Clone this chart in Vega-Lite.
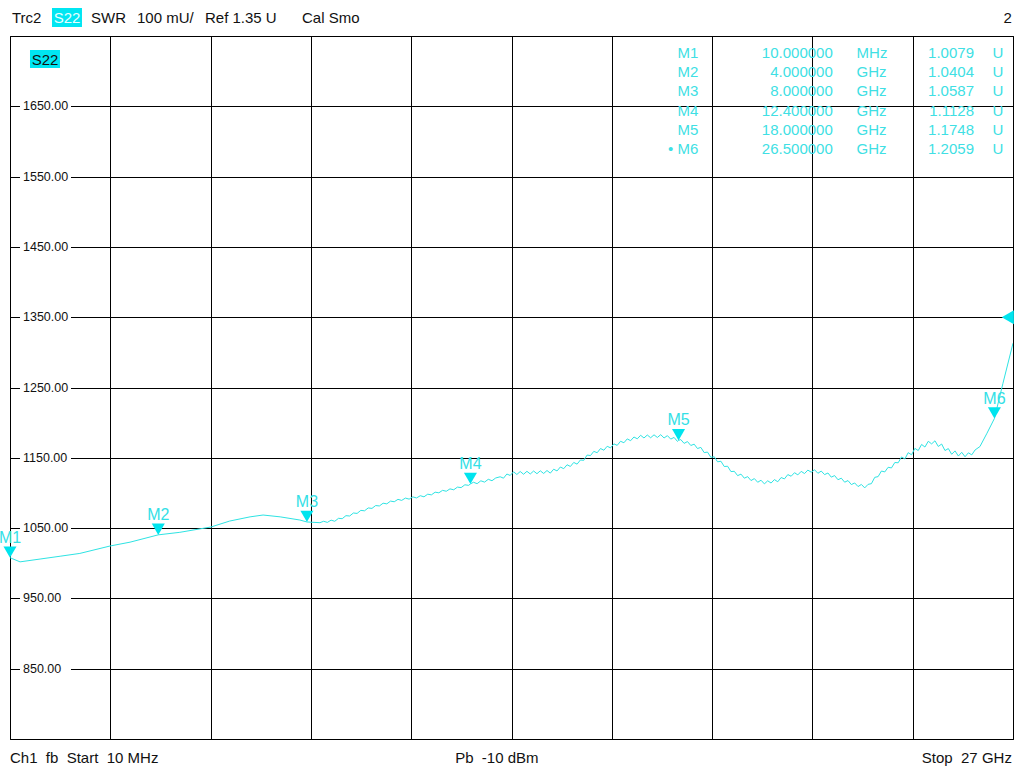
{
  "$schema": "https://vega.github.io/schema/vega-lite/v6.json",
  "width": 1003,
  "height": 703,
  "autosize": {"type": "none"},
  "padding": {"left": 10, "top": 36, "right": 11, "bottom": 28},
  "background": "white",
  "config": {
    "view": {"stroke": "black", "strokeWidth": 1},
    "font": "Liberation Sans",
    "text": {"font": "Liberation Sans"}
  },
  "datasets": {
    "one": [{}],
    "trace": [
      {"f": 0.01, "v": 1007.9}, {"f": 0.28, "v": 1002}, {"f": 0.82, "v": 1006}, {"f": 1.36, "v": 1010},
      {"f": 1.89, "v": 1014}, {"f": 2.70, "v": 1024.5}, {"f": 3.24, "v": 1030}, {"f": 4.0, "v": 1040.4},
      {"f": 4.58, "v": 1044}, {"f": 5.42, "v": 1051.6}, {"f": 5.92, "v": 1060}, {"f": 6.47, "v": 1066},
      {"f": 6.82, "v": 1068.6}, {"f": 7.28, "v": 1066}, {"f": 7.81, "v": 1061.5}, {"f": 8.0, "v": 1058.7},
      {"f": 8.35, "v": 1057.7},
      {"f": 8.45, "v": 1059.7}, {"f": 8.55, "v": 1058.1}, {"f": 8.65, "v": 1061.3}, {"f": 8.75, "v": 1059.7},
      {"f": 8.85, "v": 1063.9}, {"f": 8.95, "v": 1063.4}, {"f": 9.05, "v": 1067.7}, {"f": 9.15, "v": 1067.2},
      {"f": 9.25, "v": 1071.5}, {"f": 9.35, "v": 1070.9}, {"f": 9.45, "v": 1075.2}, {"f": 9.55, "v": 1074.6},
      {"f": 9.65, "v": 1078.7}, {"f": 9.75, "v": 1078.0}, {"f": 9.85, "v": 1082.1}, {"f": 9.95, "v": 1081.5},
      {"f": 10.05, "v": 1085.4}, {"f": 10.15, "v": 1084.5}, {"f": 10.25, "v": 1088.4}, {"f": 10.35, "v": 1087.5},
      {"f": 10.45, "v": 1090.9}, {"f": 10.55, "v": 1089.4}, {"f": 10.65, "v": 1092.7}, {"f": 10.75, "v": 1091.2},
      {"f": 10.85, "v": 1094.4}, {"f": 10.95, "v": 1092.9}, {"f": 11.05, "v": 1096.1}, {"f": 11.15, "v": 1094.5},
      {"f": 11.25, "v": 1098.2}, {"f": 11.35, "v": 1097.3}, {"f": 11.45, "v": 1101.1}, {"f": 11.55, "v": 1100.2},
      {"f": 11.65, "v": 1103.7}, {"f": 11.75, "v": 1102.4}, {"f": 11.85, "v": 1105.8}, {"f": 11.95, "v": 1104.5},
      {"f": 12.05, "v": 1108.3}, {"f": 12.15, "v": 1107.6}, {"f": 12.25, "v": 1111.6}, {"f": 12.35, "v": 1110.8},
      {"f": 12.40, "v": 1112.8},
      {"f": 12.48, "v": 1115.2}, {"f": 12.58, "v": 1113.2}, {"f": 12.68, "v": 1117.3}, {"f": 12.78, "v": 1115.4},
      {"f": 12.88, "v": 1119.4}, {"f": 12.98, "v": 1117.4}, {"f": 13.08, "v": 1121.3},
      {"f": 13.20, "v": 1123.0}, {"f": 13.29, "v": 1121.0}, {"f": 13.38, "v": 1126.9}, {"f": 13.47, "v": 1124.9},
      {"f": 13.56, "v": 1130.1}, {"f": 13.65, "v": 1126.3}, {"f": 13.74, "v": 1130.5}, {"f": 13.83, "v": 1126.6},
      {"f": 13.92, "v": 1130.8}, {"f": 14.01, "v": 1127.0}, {"f": 14.10, "v": 1131.2}, {"f": 14.19, "v": 1127.4},
      {"f": 14.28, "v": 1131.5}, {"f": 14.37, "v": 1127.7}, {"f": 14.46, "v": 1131.9}, {"f": 14.55, "v": 1128.2},
      {"f": 14.64, "v": 1133.8}, {"f": 14.73, "v": 1131.3}, {"f": 14.82, "v": 1136.9}, {"f": 14.91, "v": 1134.5},
      {"f": 15.00, "v": 1140.1}, {"f": 15.09, "v": 1137.7}, {"f": 15.18, "v": 1143.4}, {"f": 15.27, "v": 1141.0},
      {"f": 15.36, "v": 1146.9}, {"f": 15.45, "v": 1146.4}, {"f": 15.54, "v": 1153.9}, {"f": 15.63, "v": 1153.2},
      {"f": 15.72, "v": 1159.2}, {"f": 15.81, "v": 1157.2}, {"f": 15.90, "v": 1163.2}, {"f": 15.99, "v": 1160.8},
      {"f": 16.08, "v": 1166.4}, {"f": 16.17, "v": 1164.1}, {"f": 16.26, "v": 1169.8}, {"f": 16.35, "v": 1167.7},
      {"f": 16.44, "v": 1173.5}, {"f": 16.53, "v": 1171.4}, {"f": 16.62, "v": 1176.9}, {"f": 16.71, "v": 1174.3},
      {"f": 16.80, "v": 1179.6}, {"f": 16.89, "v": 1177.0}, {"f": 16.98, "v": 1182.0}, {"f": 17.07, "v": 1178.2},
      {"f": 17.16, "v": 1182.4}, {"f": 17.25, "v": 1178.5}, {"f": 17.34, "v": 1182.7}, {"f": 17.43, "v": 1178.9},
      {"f": 17.52, "v": 1182.9}, {"f": 17.61, "v": 1178.2}, {"f": 17.70, "v": 1181.5}, {"f": 17.79, "v": 1176.6},
      {"f": 17.88, "v": 1179.0}, {"f": 17.97, "v": 1173.3}, {"f": 18.0, "v": 1174.8}, {"f": 18.06, "v": 1175.9},
      {"f": 18.15, "v": 1170.5}, {"f": 18.24, "v": 1173.1}, {"f": 18.33, "v": 1167.5}, {"f": 18.42, "v": 1169.4},
      {"f": 18.51, "v": 1163.2}, {"f": 18.60, "v": 1164.8}, {"f": 18.69, "v": 1157.4}, {"f": 18.78, "v": 1158.1},
      {"f": 18.87, "v": 1150.7}, {"f": 18.96, "v": 1151.5}, {"f": 19.05, "v": 1144.3}, {"f": 19.14, "v": 1145.1},
      {"f": 19.23, "v": 1137.6}, {"f": 19.32, "v": 1138.0}, {"f": 19.41, "v": 1130.4}, {"f": 19.50, "v": 1130.8},
      {"f": 19.59, "v": 1124.6}, {"f": 19.68, "v": 1126.8}, {"f": 19.77, "v": 1121.0}, {"f": 19.86, "v": 1123.2},
      {"f": 19.95, "v": 1117.6}, {"f": 20.04, "v": 1120.4}, {"f": 20.13, "v": 1115.2}, {"f": 20.22, "v": 1118.1},
      {"f": 20.31, "v": 1112.9}, {"f": 20.40, "v": 1117.3}, {"f": 20.49, "v": 1114.1}, {"f": 20.58, "v": 1119.0},
      {"f": 20.67, "v": 1115.9}, {"f": 20.76, "v": 1121.9}, {"f": 20.85, "v": 1120.0}, {"f": 20.94, "v": 1126.1},
      {"f": 21.03, "v": 1123.8}, {"f": 21.12, "v": 1128.8}, {"f": 21.21, "v": 1125.7}, {"f": 21.30, "v": 1130.7},
      {"f": 21.39, "v": 1127.6}, {"f": 21.48, "v": 1132.5}, {"f": 21.57, "v": 1129.5}, {"f": 21.66, "v": 1133.0},
      {"f": 21.75, "v": 1128.0}, {"f": 21.84, "v": 1131.1}, {"f": 21.93, "v": 1126.1}, {"f": 22.02, "v": 1128.4},
      {"f": 22.11, "v": 1122.5}, {"f": 22.20, "v": 1124.7}, {"f": 22.29, "v": 1118.8}, {"f": 22.38, "v": 1121.0},
      {"f": 22.47, "v": 1115.3}, {"f": 22.56, "v": 1117.6}, {"f": 22.65, "v": 1111.9}, {"f": 22.74, "v": 1114.2},
      {"f": 22.83, "v": 1109.1}, {"f": 22.92, "v": 1112.1}, {"f": 23.01, "v": 1107.2}, {"f": 23.10, "v": 1112.2},
      {"f": 23.19, "v": 1113.2}, {"f": 23.28, "v": 1122.2}, {"f": 23.37, "v": 1123.2}, {"f": 23.46, "v": 1131.2},
      {"f": 23.55, "v": 1129.9}, {"f": 23.64, "v": 1136.5}, {"f": 23.73, "v": 1135.6}, {"f": 23.82, "v": 1143.3},
      {"f": 23.91, "v": 1142.9}, {"f": 24.00, "v": 1151.2}, {"f": 24.09, "v": 1148.3}, {"f": 24.18, "v": 1157.3},
      {"f": 24.27, "v": 1154.3}, {"f": 24.36, "v": 1163.4}, {"f": 24.45, "v": 1160.3}, {"f": 24.54, "v": 1169.0},
      {"f": 24.63, "v": 1165.3}, {"f": 24.72, "v": 1173.5}, {"f": 24.81, "v": 1169.8}, {"f": 24.90, "v": 1174.2},
      {"f": 24.99, "v": 1166.1}, {"f": 25.08, "v": 1169.6}, {"f": 25.17, "v": 1160.3}, {"f": 25.26, "v": 1163.1},
      {"f": 25.35, "v": 1155.0}, {"f": 25.44, "v": 1159.8}, {"f": 25.53, "v": 1152.5}, {"f": 25.62, "v": 1157.8},
      {"f": 25.71, "v": 1151.5}, {"f": 25.80, "v": 1157.1}, {"f": 25.89, "v": 1154.2}, {"f": 25.98, "v": 1161.2},
      {"f": 26.11, "v": 1166}, {"f": 26.30, "v": 1185},
      {"f": 26.50, "v": 1205.9}, {"f": 26.73, "v": 1256}, {"f": 27.0, "v": 1313}
    ],
    "markers": [
      {"m": "M1", "lab": "M1", "f": 0.01, "v": 1007.9, "flab": "10.000000", "unit": "MHz", "vlab": "1.0079", "u": "U"},
      {"m": "M2", "lab": "M2", "f": 4.0, "v": 1040.4, "flab": "4.000000", "unit": "GHz", "vlab": "1.0404", "u": "U"},
      {"m": "M3", "lab": "M3", "f": 8.0, "v": 1058.7, "flab": "8.000000", "unit": "GHz", "vlab": "1.0587", "u": "U"},
      {"m": "M4", "lab": "M4", "f": 12.4, "v": 1112.8, "flab": "12.400000", "unit": "GHz", "vlab": "1.1128", "u": "U"},
      {"m": "M5", "lab": "M5", "f": 18.0, "v": 1174.8, "flab": "18.000000", "unit": "GHz", "vlab": "1.1748", "u": "U"},
      {"m": "M6", "lab": "• M6", "f": 26.5, "v": 1205.9, "flab": "26.500000", "unit": "GHz", "vlab": "1.2059", "u": "U"}
    ],
    "ticks": [
      {"v": 850}, {"v": 950}, {"v": 1050}, {"v": 1150}, {"v": 1250}, {"v": 1350}, {"v": 1450}, {"v": 1550}, {"v": 1650}
    ]
  },
  "resolve": {"scale": {"y": "independent"}, "axis": {"y": "independent"}},
  "layer": [
    {
      "layer": [
        {
          "data": {"name": "ticks"},
          "mark": {"type": "rect", "fill": "white", "width": 51, "height": 14},
          "encoding": {
            "x": {"datum": 0.965, "type": "quantitative", "scale": {"domain": [0.01, 27], "nice": false, "zero": false},
                  "axis": {"values": [0.01, 2.709, 5.408, 8.107, 10.806, 13.505, 16.204, 18.903, 21.602, 24.301, 27.0],
                           "grid": true, "gridColor": "black", "gridOpacity": 1, "gridWidth": 1,
                           "labels": false, "ticks": false, "domain": false, "title": null}},
            "y": {"field": "v", "type": "quantitative", "scale": {"domain": [750, 1750], "nice": false, "zero": false},
                  "axis": {"values": [750, 850, 950, 1050, 1150, 1250, 1350, 1450, 1550, 1650, 1750],
                           "grid": true, "gridColor": "black", "gridOpacity": 1, "gridWidth": 1,
                           "labels": false, "ticks": false, "domain": false, "title": null}}
          }
        },
        {
          "data": {"name": "ticks"},
          "mark": {"type": "text", "align": "left", "baseline": "middle", "fontSize": 12.5, "color": "#111111"},
          "encoding": {
            "x": {"datum": 0.36, "type": "quantitative"},
            "y": {"field": "v", "type": "quantitative"},
            "text": {"field": "v", "type": "quantitative", "format": ".2f"}
          }
        },
        {
          "data": {"name": "trace"},
          "mark": {"type": "line", "color": "#2ee3e3", "strokeWidth": 1, "clip": true},
          "encoding": {
            "x": {"field": "f", "type": "quantitative"},
            "y": {"field": "v", "type": "quantitative"}
          }
        },
        {
          "data": {"name": "markers"},
          "mark": {"type": "point", "shape": "triangle-down", "filled": true, "size": 170, "yOffset": -5.6, "color": "#00e4ee", "opacity": 1},
          "encoding": {
            "x": {"field": "f", "type": "quantitative"},
            "y": {"field": "v", "type": "quantitative"}
          }
        },
        {
          "data": {"name": "markers"},
          "mark": {"type": "text", "align": "center", "baseline": "alphabetic", "dy": -15, "fontSize": 16, "color": "#33e0e6"},
          "encoding": {
            "x": {"field": "f", "type": "quantitative"},
            "y": {"field": "v", "type": "quantitative"},
            "text": {"field": "m"},
            "fontWeight": {"condition": {"test": "datum.m === 'M6'", "value": "bold"}, "value": "normal"}
          }
        },
        {
          "data": {"name": "one"},
          "mark": {"type": "point", "shape": "triangle-left", "filled": true, "size": 196, "xOffset": -5.2, "color": "#00e4ee", "opacity": 1},
          "encoding": {
            "x": {"datum": 27.0, "type": "quantitative"},
            "y": {"datum": 1350, "type": "quantitative"}
          }
        },
        {
          "data": {"name": "one"},
          "mark": {"type": "rect", "fill": "#00e6f2"},
          "encoding": {
            "x": {"datum": 0.548, "type": "quantitative"},
            "x2": {"datum": 1.355},
            "y": {"datum": 1730.1, "type": "quantitative"},
            "y2": {"datum": 1704.5}
          }
        },
        {
          "data": {"name": "one"},
          "mark": {"type": "text", "align": "center", "baseline": "alphabetic", "fontSize": 15, "color": "#111111", "text": "S22"},
          "encoding": {
            "x": {"datum": 0.952, "type": "quantitative"},
            "y": {"datum": 1708.7, "type": "quantitative"}
          }
        },
        {
          "data": {"name": "one"},
          "mark": {"type": "rect", "fill": "#00e6f2", "clip": false},
          "encoding": {
            "x": {"datum": 1.14, "type": "quantitative"},
            "x2": {"datum": 1.947},
            "y": {"datum": 1789.8, "type": "quantitative"},
            "y2": {"datum": 1762.8}
          }
        },
        {
          "data": {"name": "one"},
          "mark": {"type": "text", "align": "center", "baseline": "alphabetic", "fontSize": 15, "color": "#e8ffff", "text": "S22"},
          "encoding": {
            "x": {"datum": 1.544, "type": "quantitative"},
            "y": {"datum": 1768.9, "type": "quantitative"}
          }
        },
        {
          "data": {"name": "one"},
          "mark": {"type": "text", "align": "left", "baseline": "alphabetic", "fontSize": 15, "color": "#111111", "text": "Trc2"},
          "encoding": {
            "x": {"datum": 0.064, "type": "quantitative"},
            "y": {"datum": 1768.9, "type": "quantitative"}
          }
        },
        {
          "data": {"name": "one"},
          "mark": {"type": "text", "align": "left", "baseline": "alphabetic", "fontSize": 15, "color": "#111111", "text": "SWR"},
          "encoding": {
            "x": {"datum": 2.19, "type": "quantitative"},
            "y": {"datum": 1768.9, "type": "quantitative"}
          }
        },
        {
          "data": {"name": "one"},
          "mark": {"type": "text", "align": "left", "baseline": "alphabetic", "fontSize": 15, "color": "#111111", "text": "100 mU/"},
          "encoding": {
            "x": {"datum": 3.427, "type": "quantitative"},
            "y": {"datum": 1768.9, "type": "quantitative"}
          }
        },
        {
          "data": {"name": "one"},
          "mark": {"type": "text", "align": "left", "baseline": "alphabetic", "fontSize": 15, "color": "#111111", "text": "Ref 1.35 U"},
          "encoding": {
            "x": {"datum": 5.257, "type": "quantitative"},
            "y": {"datum": 1768.9, "type": "quantitative"}
          }
        },
        {
          "data": {"name": "one"},
          "mark": {"type": "text", "align": "left", "baseline": "alphabetic", "fontSize": 15, "color": "#111111", "text": "Cal Smo"},
          "encoding": {
            "x": {"datum": 7.867, "type": "quantitative"},
            "y": {"datum": 1768.9, "type": "quantitative"}
          }
        },
        {
          "data": {"name": "one"},
          "mark": {"type": "text", "align": "right", "baseline": "alphabetic", "fontSize": 15, "color": "#111111", "text": "2"},
          "encoding": {
            "x": {"datum": 26.97, "type": "quantitative"},
            "y": {"datum": 1768.9, "type": "quantitative"}
          }
        },
        {
          "data": {"name": "one"},
          "mark": {"type": "text", "align": "left", "baseline": "alphabetic", "fontSize": 15, "color": "#111111", "text": "Ch1\u00a0\u00a0fb\u00a0\u00a0Start\u00a0\u00a010 MHz"},
          "encoding": {
            "x": {"datum": 0.01, "type": "quantitative"},
            "y": {"datum": 715.9, "type": "quantitative"}
          }
        },
        {
          "data": {"name": "one"},
          "mark": {"type": "text", "align": "center", "baseline": "alphabetic", "fontSize": 15, "color": "#111111", "text": "Pb\u00a0\u00a0-10 dBm"},
          "encoding": {
            "x": {"datum": 13.11, "type": "quantitative"},
            "y": {"datum": 715.9, "type": "quantitative"}
          }
        },
        {
          "data": {"name": "one"},
          "mark": {"type": "text", "align": "right", "baseline": "alphabetic", "fontSize": 15, "color": "#111111", "text": "Stop\u00a0\u00a027 GHz"},
          "encoding": {
            "x": {"datum": 26.97, "type": "quantitative"},
            "y": {"datum": 715.9, "type": "quantitative"}
          }
        }
      ]
    },
    {
      "data": {"name": "markers"},
      "encoding": {
        "y": {"field": "m", "type": "ordinal",
              "scale": {"type": "point", "domain": ["M1", "M2", "M3", "M4", "M5", "M6"], "range": [16.7, 113.3], "padding": 0},
              "axis": null}
      },
      "layer": [
        {
          "mark": {"type": "text", "align": "right", "baseline": "middle", "fontSize": 15, "color": "#40dfe4"},
          "encoding": {"x": {"datum": 18.53, "type": "quantitative"}, "text": {"field": "lab"}}
        },
        {
          "mark": {"type": "text", "align": "right", "baseline": "middle", "fontSize": 15, "color": "#40dfe4"},
          "encoding": {"x": {"datum": 22.15, "type": "quantitative"}, "text": {"field": "flab"}}
        },
        {
          "mark": {"type": "text", "align": "left", "baseline": "middle", "fontSize": 15, "color": "#40dfe4"},
          "encoding": {"x": {"datum": 22.79, "type": "quantitative"}, "text": {"field": "unit"}}
        },
        {
          "mark": {"type": "text", "align": "right", "baseline": "middle", "fontSize": 15, "color": "#40dfe4"},
          "encoding": {"x": {"datum": 25.95, "type": "quantitative"}, "text": {"field": "vlab"}}
        },
        {
          "mark": {"type": "text", "align": "left", "baseline": "middle", "fontSize": 15, "color": "#40dfe4"},
          "encoding": {"x": {"datum": 26.45, "type": "quantitative"}, "text": {"field": "u"}}
        }
      ]
    }
  ]
}
